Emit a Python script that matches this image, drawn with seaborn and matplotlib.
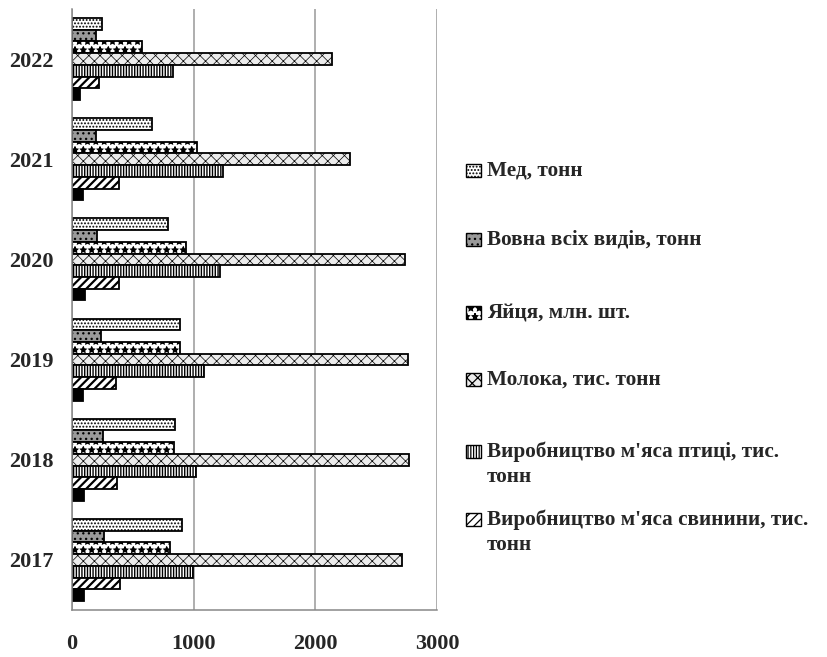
import numpy as np
import pandas as pd
import matplotlib
matplotlib.use("Agg")
import matplotlib.pyplot as plt
import matplotlib.patches as mpatches
import seaborn as sns

sns.set_style("white")
plt.rcParams['font.family'] = ['Liberation Serif', 'DejaVu Serif']
plt.rcParams['font.weight'] = 'bold'
plt.rcParams['hatch.linewidth'] = 0.9

years = ['2017', '2018', '2019', '2020', '2021', '2022']
series = ['Мед, тонн', 'Вовна всіх видів, тонн', 'Яйця, млн. шт.',
          'Молока, тис. тонн', "Виробництво м'яса птиці, тис. тонн",
          "Виробництво м'яса свинини, тис. тонн",
          "Виробництво м'яса ВРХ, тис. тонн"]

honey = [902, 850, 891, 787, 658, 244]
wool = [266, 258, 236, 203, 195, 195]
eggs = [806, 836, 891, 935, 1025, 573]
milk = [2712, 2769, 2758, 2734, 2281, 2136]
poultry = [993, 1020, 1089, 1217, 1237, 828]
pork = [398, 373, 362, 384, 384, 219]
beef = [96, 96, 88, 107, 88, 66]

values = [honey, wool, eggs, milk, poultry, pork, beef]
rows = []
for name, vals in zip(series, values):
    for y, v in zip(years, vals):
        rows.append({'year': y, 'series': name, 'value': v})
df = pd.DataFrame(rows)

faces = ['white', '#9a9a9a', 'white', '#ececec', 'white', 'white', 'black']
hatches = ['.....', '...', '**', 'xxx', '||||||', '////', '']
hatch_lw = [0.9, 0.9, 0.9, 0.5, 1.0, 1.6, 0.9]

W, H = 828, 657
fig = plt.figure(figsize=(W / 100, H / 100), dpi=100)
ax = fig.add_axes([72 / W, 1 - 610 / H, (437 - 72) / W, (610 - 9) / H])

sns.barplot(data=df, x='value', y='year', hue='series', order=years[::-1],
            hue_order=series, palette=faces, orient='h', width=0.82,
            edgecolor='black', linewidth=1.3, saturation=1, ax=ax, legend=False)

for cont, fc, hh, lw in zip(ax.containers, faces, hatches, hatch_lw):
    for bar in cont:
        bar.set_facecolor(fc)
        bar.set_hatch(hh)
        bar.set_edgecolor('black')
        if hasattr(bar, 'set_hatch_linewidth'):
            bar.set_hatch_linewidth(lw)

ax.set_xlim(0, 3000)
ax.set_ylim(5.5, -0.5)
ax.set_xlabel('')
ax.set_ylabel('')
ax.set_xticks([0, 1000, 2000, 3000])
ax.set_xticklabels(['0', '1000', '2000', '3000'], fontsize=16, fontweight='bold')
ax.set_yticks(np.arange(-0.5, 6, 1))
ax.set_yticklabels([])
ax.set_yticks(np.arange(6), minor=True)
ax.set_yticklabels(years[::-1], minor=True, fontsize=16, fontweight='bold')
ax.tick_params(axis='y', which='major', length=5, color='#888888', width=1)
ax.tick_params(axis='y', which='minor', length=0, pad=13)
ax.tick_params(axis='x', length=5, color='#888888', width=1, pad=12)
ax.grid(axis='x', color='#999999', linewidth=1.1)
ax.set_axisbelow(True)
for s in ['top', 'right']:
    ax.spines[s].set_visible(False)
for s in ['left', 'bottom']:
    ax.spines[s].set_color('#888888')
    ax.spines[s].set_linewidth(1.1)

# legend drawn by hand (first six series only, as in the source)
legend_lines = [
    (['Мед, тонн'], 171),
    (['Вовна всіх видів, тонн'], 240),
    (['Яйця, млн. шт.'], 313),
    (['Молока, тис. тонн'], 380),
    (["Виробництво м'яса птиці, тис.", 'тонн'], 452),
    (["Виробництво м'яса свинини, тис.", 'тонн'], 520),
]
for i, (lines, yc) in enumerate(legend_lines):
    fig.add_artist(mpatches.Rectangle((466 / W, 1 - (yc + 6) / H), 15 / W, 13 / H,
                                      transform=fig.transFigure, facecolor=faces[i],
                                      edgecolor='black', hatch=hatches[i], linewidth=1))
    for k, t in enumerate(lines):
        fig.text(487 / W, 1 - (yc + 25 * k) / H, t, fontsize=15.3, fontweight='bold',
                 va='center', ha='left')

fig.savefig('out.png', dpi=100)
